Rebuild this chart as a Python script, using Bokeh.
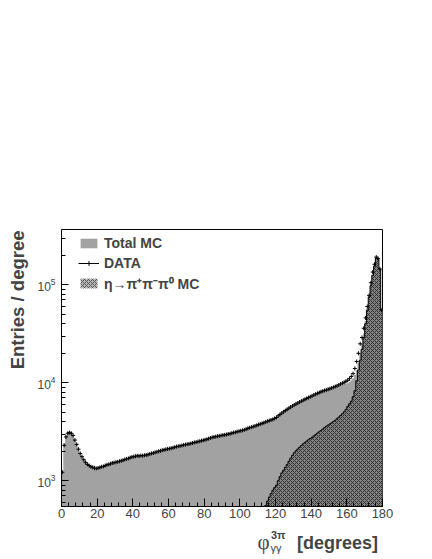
import math
from bokeh.plotting import figure
from bokeh.layouts import column, row
from bokeh.models import Range1d, Legend, LegendItem, Label, FixedTicker
from bokeh.embed import file_html
from bokeh.resources import INLINE

# ---- data (entries / degree, 1-degree bins starting at 0) ----
bin_start = 0
data_vals = [
    1220, 2300, 2800, 3050, 3100, 3050, 2900, 2600, 2350, 2100, 1900, 1760, 1640, 1540, 1470, 1430, 1390, 1370, 1345, 1335,
    1350, 1365, 1390, 1400, 1430, 1455, 1470, 1490, 1520, 1530, 1545, 1560, 1580, 1600, 1620, 1650, 1670, 1690, 1720, 1750,
    1760, 1780, 1800, 1790, 1810, 1800, 1820, 1830, 1850, 1880, 1900, 1920, 1950, 1970, 2000, 2020, 2050, 2070, 2090, 2110,
    2130, 2150, 2170, 2200, 2230, 2250, 2270, 2290, 2320, 2340, 2360, 2380, 2400, 2430, 2460, 2480, 2510, 2530, 2560, 2590,
    2620, 2650, 2690, 2730, 2770, 2800, 2820, 2850, 2870, 2900, 2920, 2940, 2970, 3000, 3020, 3060, 3100, 3130, 3170, 3200,
    3240, 3270, 3310, 3360, 3420, 3480, 3520, 3570, 3620, 3680, 3740, 3800, 3850, 3910, 3980, 4050, 4110, 4170, 4230, 4330,
    4420, 4600, 4750, 4900, 5050, 5200, 5350, 5500, 5650, 5800, 5950, 6080, 6220, 6360, 6500, 6640, 6780, 6920, 7060, 7200,
    7350, 7500, 7650, 7800, 7950, 8100, 8220, 8340, 8460, 8580, 8700, 8850, 9000, 9150, 9300, 9500, 9700, 9900, 10100, 10350,
    10600, 11000, 11600, 12400, 14000, 16500, 20000, 25000, 29000, 36000, 46000, 60000, 78000, 105000, 135000, 162000, 192000, 186000, 145000, 55000,
]
total_mc = [
    1250, 2400, 2900, 3150, 3200, 3150, 2950, 2650, 2380, 2120, 1920, 1780, 1660, 1560, 1490, 1440, 1400, 1380, 1430, 1330,
    1340, 1360, 1370, 1395, 1420, 1440, 1460, 1480, 1500, 1515, 1530, 1550, 1565, 1585, 1605, 1630, 1650, 1675, 1700, 1730,
    1745, 1760, 1775, 1780, 1795, 1790, 1805, 1815, 1835, 1860, 1880, 1900, 1925, 1950, 1975, 2000, 2025, 2050, 2070, 2090,
    2110, 2130, 2150, 2175, 2200, 2225, 2245, 2270, 2295, 2315, 2335, 2360, 2380, 2405, 2430, 2455, 2480, 2505, 2530, 2560,
    2590, 2620, 2655, 2695, 2735, 2765, 2790, 2815, 2840, 2870, 2890, 2910, 2940, 2965, 2990, 3025, 3065, 3095, 3135, 3165,
    3200, 3235, 3275, 3320, 3380, 3440, 3480, 3530, 3580, 3640, 3700, 3755, 3810, 3870, 3935, 4000, 4060, 4120, 4180, 4250,
    4370, 4540, 4690, 4840, 4990, 5140, 5290, 5440, 5580, 5730, 5880, 6010, 6150, 6290, 6420, 6560, 6700, 6840, 6980, 7120,
    7260, 7410, 7560, 7700, 7850, 7990, 8100, 8220, 8340, 8450, 8560, 8690, 8830, 8960, 9090, 9250, 9400, 9550, 9700, 9850,
    9900, 10200, 10600, 11100, 12000, 13400, 16100, 20000, 24900, 31800, 42700, 57600, 77500, 100500, 127400, 157300, 190200, 185100, 146900, 56500,
]
eta_start = 113
eta_mc = [
    500, 560, 620, 680, 740, 800, 850, 900, 1000, 1100, 1200, 1280, 1370, 1460, 1580, 1700, 1820,
    1930, 2020, 2110, 2200, 2290, 2380, 2460, 2540, 2620, 2700,
    2780, 2870, 2960, 3060, 3160, 3260, 3370, 3480, 3600, 3700,
    3800, 3900, 4020, 4150, 4300, 4460, 4630, 4820, 5050, 5350,
    5750, 6100, 6500, 7200, 8300, 10500, 13500, 17000, 22000, 29000,
    40000, 55000, 75000, 98000, 125000, 155000, 188000, 183000, 145000, 55000,
]
x_ticks = [0, 20, 40, 60, 80, 100, 120, 140, 160, 180]
x_minor_ticks = list(range(0, 181, 4))
legend_labels = ["Total MC", "DATA", "η→π⁺π⁻π⁰ MC"]
y_title = "Entries / degree"
x_title_parts = ["φ", "3π", "γγ", "[degrees]"]

FONT = "Liberation Sans"
GRAY = "#a2a2a2"

LEFT_W = 30
MAIN_H = 525
BOTTOM_H = 34
p = figure(width=432 - LEFT_W, height=MAIN_H, y_axis_type="log",
           x_range=Range1d(0, 180), y_range=Range1d(546, 367000),
           output_backend="svg", toolbar_location=None,
           min_border_left=31, min_border_right=50, min_border_top=229, min_border_bottom=19)
p.background_fill_color = "white"
p.border_fill_color = "white"
p.outline_line_color = "black"
p.xgrid.visible = False
p.ygrid.visible = False

# step arrays built from bin lists
edges = [bin_start + i for i in range(len(data_vals) + 1)]
tot_step = total_mc + [total_mc[-1]]
eta_edges = [eta_start + i for i in range(len(eta_mc) + 1)]
eta_step = eta_mc + [eta_mc[-1]]
centers = [bin_start + i + 0.5 for i in range(len(data_vals))]

p.varea_step(x=edges, y1=[1] * len(edges), y2=tot_step, step_mode="after", fill_color=GRAY)
p.varea_step(x=eta_edges, y1=[1] * len(eta_edges), y2=eta_step, step_mode="after",
             fill_color="#848484", hatch_pattern="diagonal_cross", hatch_color="#2e2e2e",
             hatch_scale=4, hatch_weight=1)
p.step(x=eta_edges, y=eta_step, mode="after", line_color="black", line_width=1)
data_r = p.scatter(x=centers, y=data_vals, marker="cross", size=4, line_color="black", line_width=1)

# legend sample glyphs (placed outside the visible x-range)
leg_tot = p.quad(left=[-20], right=[-10], top=[2000], bottom=[1000], fill_color=GRAY, line_color=None)
leg_line = p.line(x=[-20, -10], y=[1000, 1000], line_color="black", line_width=1)
leg_eta = p.quad(left=[-20], right=[-10], top=[2000], bottom=[1000], fill_color="#b8b8b8", line_color=None,
                 hatch_pattern="diagonal_cross", hatch_color="#555555", hatch_scale=4, hatch_weight=1)

legend = Legend(items=[
    LegendItem(label=legend_labels[0], renderers=[leg_tot]),
    LegendItem(label=legend_labels[1], renderers=[leg_line, data_r]),
    LegendItem(label=legend_labels[2], renderers=[leg_eta]),
], location=(17, 213), orientation="vertical", glyph_width=21, glyph_height=12,
    label_standoff=5, spacing=0, padding=0, margin=0, label_height=20,
    label_text_font=FONT, label_text_font_style="bold", label_text_font_size="14px",
    border_line_alpha=0, background_fill_alpha=0)
p.add_layout(legend, "center")

# axes
xa = p.xaxis[0]
xa.ticker = FixedTicker(ticks=x_ticks, minor_ticks=x_minor_ticks)
xa.major_tick_in = 8
xa.major_tick_out = 0
xa.minor_tick_in = 4
xa.minor_tick_out = 0
xa.major_label_text_font = FONT
xa.major_label_text_font_size = "13px"
xa.major_label_standoff = 2
xa.axis_line_color = "black"

ya = p.yaxis[0]
ya.major_tick_in = 7
ya.major_tick_out = 0
ya.minor_tick_in = 4
ya.minor_tick_out = 0
ya.major_label_text_font = FONT
ya.major_label_text_font_size = "12px"
ya.major_label_standoff = 6

# left strip with the y title (its frame is aligned with the main frame)
pl = figure(width=LEFT_W, height=MAIN_H, output_backend="svg", toolbar_location=None,
            x_axis_location=None, y_axis_location=None, min_border=0,
            x_range=Range1d(0, 1), y_range=Range1d(0, 1))
pl.outline_line_color = None
pl.xgrid.visible = False
pl.ygrid.visible = False
pl.add_layout(Label(x=17, y=276, x_units="screen", y_units="screen", text=y_title,
                    angle=math.pi / 2, text_align="right", text_baseline="middle",
                    text_font=FONT, text_font_style="bold", text_font_size="18.5px"))

# bottom strip with the x title
pb = figure(width=432, height=BOTTOM_H, output_backend="svg", toolbar_location=None,
            x_axis_location=None, y_axis_location=None, min_border=0,
            x_range=Range1d(0, 1), y_range=Range1d(0, 1))
pb.outline_line_color = None
pb.xgrid.visible = False
pb.ygrid.visible = False
pb.add_layout(Label(x=257, y=18, x_units="screen", y_units="screen", text=x_title_parts[0],
                    text_font="Liberation Serif", text_font_size="21px", text_baseline="alphabetic"))
pb.add_layout(Label(x=270.5, y=24.5, x_units="screen", y_units="screen", text=x_title_parts[1],
                    text_font=FONT, text_font_style="bold", text_font_size="11px", text_baseline="alphabetic"))
pb.add_layout(Label(x=270, y=11.5, x_units="screen", y_units="screen", text=x_title_parts[2],
                    text_font=FONT, text_font_size="11px", text_baseline="alphabetic"))
pb.add_layout(Label(x=296.5, y=17, x_units="screen", y_units="screen", text=x_title_parts[3],
                    text_font=FONT, text_font_style="bold", text_font_size="18px", text_baseline="alphabetic"))

layout = column(row(pl, p, spacing=0), pb, spacing=0)
open("out.html", "w").write(file_html(layout, INLINE))
